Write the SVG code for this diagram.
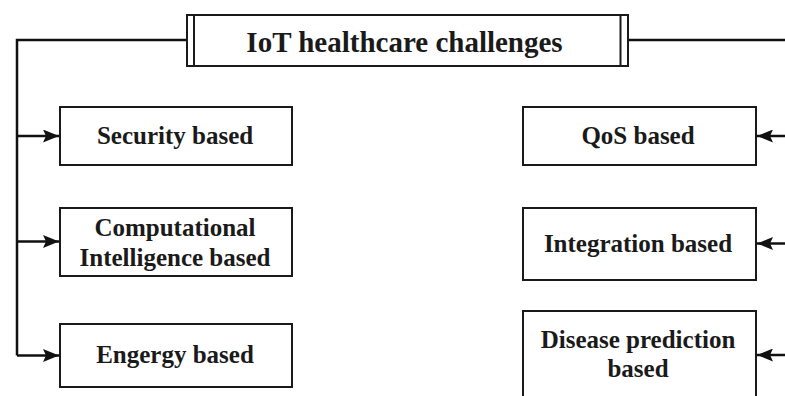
<svg xmlns="http://www.w3.org/2000/svg" width="785" height="396" viewBox="0 0 785 396">
<style>
.box{fill:#fff;stroke:#1a1a1a;stroke-width:2}
.ln{fill:none;stroke:#111;stroke-width:2.5}
.t{font-family:"Liberation Serif","Times New Roman",serif;font-weight:bold;font-size:25px;fill:#1a1a1a;text-anchor:middle}
.title{font-size:29px}
</style>
<defs>
<marker id="ah" viewBox="0 0 16 13" refX="16" refY="6.5" markerWidth="16" markerHeight="13" markerUnits="userSpaceOnUse" orient="auto">
<path d="M0,0 L16,6.5 L0,13 L3,6.5 Z" fill="#111"/>
</marker>
</defs>
<rect width="785" height="396" fill="#fff"/>
<g id="connectors">
<path class="ln" d="M187,40 H17 V355.5"/>
<path class="ln" d="M628,40 H785"/>
<line class="ln" x1="17" y1="136" x2="59" y2="136" marker-end="url(#ah)"/>
<line class="ln" x1="17" y1="241.5" x2="59" y2="241.5" marker-end="url(#ah)"/>
<line class="ln" x1="17" y1="355.5" x2="59" y2="355.5" marker-end="url(#ah)"/>
<line class="ln" x1="785" y1="136" x2="757" y2="136" marker-end="url(#ah)"/>
<line class="ln" x1="785" y1="243.5" x2="757" y2="243.5" marker-end="url(#ah)"/>
<line class="ln" x1="785" y1="355" x2="757" y2="355" marker-end="url(#ah)"/>
</g>
<g id="title">
<rect class="box" x="187" y="15" width="441" height="51"/>
<line class="box" x1="194" y1="15" x2="194" y2="66"/>
<line class="box" x1="620.5" y1="15" x2="620.5" y2="66"/>
<text class="t title" x="404.5" y="52">IoT healthcare challenges</text>
</g>
<g id="security">
<rect class="box" x="60" y="107" width="232" height="58"/>
<text class="t" x="175" y="144">Security based</text>
</g>
<g id="computational">
<rect class="box" x="60" y="208" width="232" height="68"/>
<text class="t" x="175" y="236">Computational</text>
<text class="t" x="175" y="266">Intelligence based</text>
</g>
<g id="energy">
<rect class="box" x="60" y="324" width="232" height="63"/>
<text class="t" x="175" y="363">Engergy based</text>
</g>
<g id="qos">
<rect class="box" x="523" y="107" width="233" height="58"/>
<text class="t" x="638" y="144">QoS based</text>
</g>
<g id="integration">
<rect class="box" x="523" y="208" width="233" height="72"/>
<text class="t" x="638" y="252">Integration based</text>
</g>
<g id="disease">
<rect class="box" x="523" y="311" width="233" height="95"/>
<text class="t" x="638" y="348">Disease prediction</text>
<text class="t" x="638" y="377">based</text>
</g>
</svg>
